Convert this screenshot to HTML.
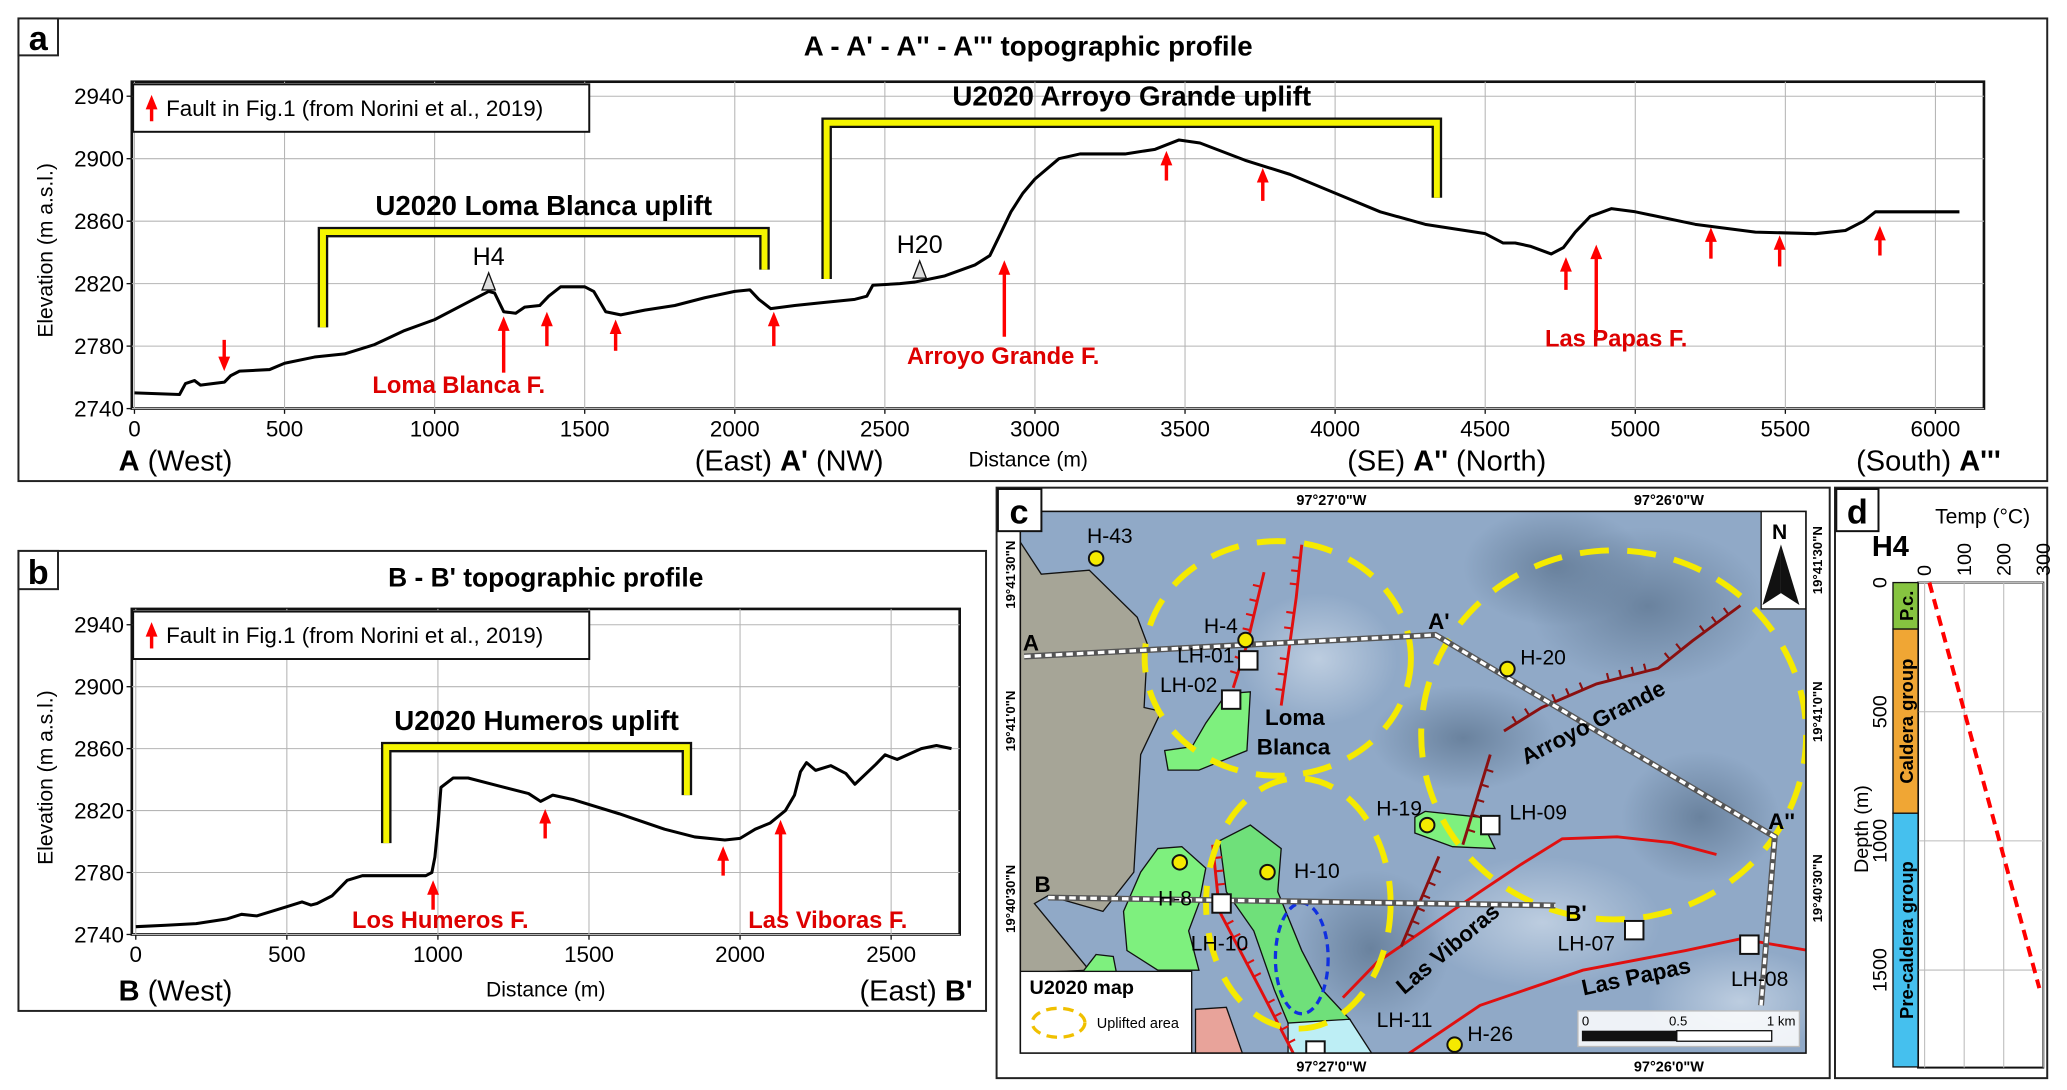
<!DOCTYPE html>
<html><head><meta charset="utf-8">
<style>
html,body{margin:0;padding:0;background:#fff;}
svg{display:block;font-family:"Liberation Sans Narrow","Liberation Sans",sans-serif;}
.b{font-weight:bold}
</style></head>
<body>
<svg id="fig" width="2067" height="1090" viewBox="0 0 1568 827" preserveAspectRatio="none" xmlns="http://www.w3.org/2000/svg">
<defs>
<radialGradient id="shade" cx="50%" cy="50%" r="50%"><stop offset="0" stop-color="#5d7590" stop-opacity="0.75"/><stop offset="1" stop-color="#5d7590" stop-opacity="0"/></radialGradient>
<radialGradient id="light" cx="50%" cy="50%" r="50%"><stop offset="0" stop-color="#c8d6e6" stop-opacity="0.8"/><stop offset="1" stop-color="#c8d6e6" stop-opacity="0"/></radialGradient>
<clipPath id="mapclip"><rect x="774" y="388" width="596" height="411"/></clipPath>
</defs>
<!-- panel boxes -->
<rect x="14" y="14" width="1539" height="351" fill="none" stroke="#222" stroke-width="1.5"/>
<rect x="14" y="14" width="30" height="28" fill="#fff" stroke="#222" stroke-width="1.5"/>
<text x="29" y="38" font-size="26" class="b" text-anchor="middle" font-family="Liberation Sans">a</text>
<text x="780" y="42" font-size="21" class="b" text-anchor="middle">A - A' - A'' - A''' topographic profile</text>

<rect x="14" y="418" width="734" height="349" fill="none" stroke="#222" stroke-width="1.5"/>
<rect x="14" y="418" width="30" height="29" fill="#fff" stroke="#222" stroke-width="1.5"/>
<text x="29" y="443" font-size="26" class="b" text-anchor="middle" font-family="Liberation Sans">b</text>
<text x="414" y="445" font-size="20" class="b" text-anchor="middle">B - B' topographic profile</text>

<g id="gA"></g>
<g id="gB"></g>

<!-- panel c -->
<rect x="756" y="370" width="632" height="448" fill="#fff" stroke="#222" stroke-width="1.5"/>
<g clip-path="url(#mapclip)" id="mapg">
<rect x="774" y="388" width="596" height="411" fill="#90a9c7"/>
<ellipse cx="1250" cy="460" rx="90" ry="60" fill="url(#shade)"/>
<ellipse cx="1180" cy="430" rx="70" ry="45" fill="url(#shade)"/>
<ellipse cx="1290" cy="620" rx="60" ry="50" fill="url(#shade)"/>
<ellipse cx="1110" cy="560" rx="70" ry="40" fill="url(#shade)"/>
<ellipse cx="1040" cy="720" rx="60" ry="60" fill="url(#shade)"/>
<ellipse cx="1000" cy="500" rx="60" ry="50" fill="url(#light)"/>
<ellipse cx="1170" cy="700" rx="90" ry="50" fill="url(#light)"/>
<ellipse cx="1320" cy="760" rx="70" ry="40" fill="url(#light)"/>
</g>
<g id="gC"></g>

<!-- panel d -->
<rect x="1392" y="370" width="161" height="448" fill="#fff" stroke="#222" stroke-width="1.5"/>
<g id="gD"></g>
</svg>

<script>
var NS='http://www.w3.org/2000/svg';
function mk(parent,tag,attrs,txt){var e=document.createElementNS(NS,tag);for(var k in attrs)e.setAttribute(k,attrs[k]);if(txt!==undefined)e.textContent=txt;parent.appendChild(e);return e;}

/* ================= PANEL A DATA ================= */
var aDist=[0,150,170,200,220,300,320,350,450,500,600,700,800,900,1000,1100,1160,1180,1200,1230,1270,1300,1350,1380,1420,1500,1530,1570,1620,1700,1800,1900,2000,2050,2080,2120,2200,2300,2400,2440,2460,2550,2600,2700,2800,2850,2880,2920,2960,3000,3080,3150,3300,3400,3480,3550,3700,3850,4000,4150,4300,4500,4560,4600,4650,4720,4760,4800,4850,4920,5000,5200,5400,5600,5700,5760,5800,6080];
var aElev=[2750,2749,2756,2758,2755,2757,2761,2764,2765,2769,2773,2775,2781,2790,2797,2807,2813,2815,2814,2802,2801,2805,2806,2812,2818,2818,2815,2802,2800,2803,2806,2811,2815,2816,2810,2804,2806,2808,2810,2812,2819,2820,2821,2825,2832,2838,2850,2866,2878,2887,2900,2903,2903,2906,2912,2910,2899,2890,2878,2866,2858,2852,2846,2846,2844,2839,2843,2853,2863,2868,2866,2858,2853,2852,2854,2860,2866,2866];
var aXTicks=[0,500,1000,1500,2000,2500,3000,3500,4000,4500,5000,5500,6000];
var aYTicks=[2740,2780,2820,2860,2900,2940];
var aFaultDist=[299,1230,1374,1603,2130,2898,3438,3759,4769,4870,5252,5481,5815];
var aFaultTip=[2764,2799,2802,2797,2802,2835,2905,2894,2837,2845,2856,2851,2857];
var aFaultTail=[2784,2763,2780,2777,2780,2786,2886,2873,2816,2786,2836,2831,2838];

/* ================= PANEL B DATA ================= */
var bDist=[0,100,200,300,350,400,500,550,580,600,650,700,750,800,960,980,990,1000,1010,1050,1100,1200,1300,1340,1380,1450,1600,1750,1850,1950,2000,2050,2100,2150,2180,2200,2220,2250,2300,2350,2380,2450,2480,2520,2600,2650,2700];
var bElev=[2745,2746,2747,2750,2753,2752,2758,2761,2759,2760,2765,2775,2778,2778,2778,2780,2790,2810,2835,2841,2841,2836,2831,2826,2830,2827,2818,2808,2803,2801,2802,2808,2812,2820,2830,2845,2851,2846,2849,2844,2837,2850,2856,2853,2860,2862,2860];
var bXTicks=[0,500,1000,1500,2000,2500];
var bYTicks=[2740,2780,2820,2860,2900,2940];
var bFaultDist=[984,1355,1944,2134];
var bFaultTip=[2775,2821,2797,2814];
var bFaultTail=[2756,2802,2778,2752];

/* ================= PANEL D DATA ================= */
var dTempTicks=[0,100,200,300];
var dDepthTicks=[0,500,1000,1500];
var dDepth=[0,1570];
var dTemp=[12,290];

function profile(g,cfg){
  var X=cfg.x,Y=cfg.y;
  // frame
  var fr=mk(g,'rect',{x:cfg.fx0,y:cfg.fy0,width:cfg.fx1-cfg.fx0,height:cfg.fy1-cfg.fy0,fill:'#fff',stroke:'#111','stroke-width':2});
  
  
  cfg.xt.forEach(function(t){
    var l=mk(g,'line',{x1:X(t),x2:X(t),y1:cfg.fy0,y2:cfg.fy1,stroke:'#b5b5b5','stroke-width':0.8});
    
    
    var tl=mk(g,'text',{x:X(t),y:cfg.fy1+21,'font-size':17,'text-anchor':'middle'},String(t));
    
    
    mk(g,'line',{x1:X(t),x2:X(t),y1:cfg.fy1,y2:cfg.fy1+4,stroke:'#111','stroke-width':1});
  });
  cfg.yt.forEach(function(t){
    var l=mk(g,'line',{x1:cfg.fx0,x2:cfg.fx1,y1:Y(t),y2:Y(t),stroke:'#b5b5b5','stroke-width':0.8});
    
    
    var tl=mk(g,'text',{x:cfg.fx0-6,y:Y(t)+6,'font-size':17,'text-anchor':'end'},String(t));
    
    
    mk(g,'line',{x1:cfg.fx0-4,x2:cfg.fx0,y1:Y(t),y2:Y(t),stroke:'#111','stroke-width':1});
  });
  var yl=mk(g,'text',{x:0,y:0,'font-size':16,'text-anchor':'middle','font-family':'Liberation Sans',transform:'translate(40,'+cfg.ylY+') rotate(-90)'},'Elevation (m a.s.l.)');
  
  
  // legend
  var lg=mk(g,'g',{});
  
  
  mk(lg,'rect',{x:101,y:cfg.fy0+2,width:346,height:36,fill:'#fff',stroke:'#111','stroke-width':1.5});
  redArrow(lg,115,cfg.fy0+30,cfg.fy0+10);
  mk(lg,'text',{x:126,y:cfg.fy0+26,'font-size':17},'Fault in Fig.1 (from Norini et al., 2019)');
  // brackets
  cfg.br.forEach(function(b){
    var d='M'+X(b[0])+','+Y(b[3])+' L'+X(b[0])+','+Y(b[2])+' L'+X(b[1])+','+Y(b[2])+' L'+X(b[1])+','+Y(b[4]);
    var bg=mk(g,'g',{});
    
    
    mk(bg,'path',{d:d,fill:'none',stroke:'#111','stroke-width':8,'stroke-linejoin':'miter'});
    mk(bg,'path',{d:d,fill:'none',stroke:'#f5f500','stroke-width':4.5,'stroke-linejoin':'miter'});
    var bl=mk(g,'text',{x:(X(b[0])+X(b[1]))/2,y:Y(b[2])-13,'font-size':21,'text-anchor':'middle',class:'b'},b[5]);
    
    
  });
  // profile line
  var pts=cfg.dist.map(function(d,i){return X(d).toFixed(1)+','+Y(cfg.elev[i]).toFixed(1);}).join(' ');
  var pl=mk(g,'polyline',{points:pts,fill:'none',stroke:'#000','stroke-width':2.3,'stroke-linejoin':'round'});
  
  
  // faults
  cfg.fd.forEach(function(d,i){
    var a=redArrow(g,X(d),Y(cfg.ftail[i]),Y(cfg.ftip[i]));
    
    
  });
}
function redArrow(g,x,y0,y1){
  var gg=mk(g,'g',{});
  var dir=y1<y0?1:-1;
  mk(gg,'line',{x1:x,x2:x,y1:y0,y2:y1+dir*10,stroke:'#f00','stroke-width':2.6});
  mk(gg,'path',{d:'M'+(x-4.5)+','+(y1+dir*11)+' L'+x+','+y1+' L'+(x+4.5)+','+(y1+dir*11)+'Z',fill:'#f00'});
  return gg;
}
function txt(g,x,y,s,size,name,extra){
  var a={x:x,y:y,'font-size':size};for(var k in extra)a[k]=extra[k];
  var t=mk(g,'text',a,s);
  
  
  return t;
}

/* ---- Panel A ---- */
var gA=document.getElementById('gA');
var xA=function(d){return 102+d*0.2277;};
var yA=function(e){return 310-(e-2740)*1.185;};
profile(gA,{p:'profile-a',x:xA,y:yA,fx0:100,fx1:1505,fy0:62,fy1:310,xt:aXTicks,yt:aYTicks,ylY:190,dist:aDist,elev:aElev,fd:aFaultDist,ftip:aFaultTip,ftail:aFaultTail,
  br:[[628,2099,2853,2792,2829,'U2020 Loma Blanca uplift'],[2306,4339,2923,2823,2875,'U2020 Arroyo Grande uplift']]});
// wells
function well(g,x,yTop,label,name){
  var w=mk(g,'g',{});
  
  
  mk(w,'path',{d:'M'+x+','+yTop+' L'+(x-5)+','+(yTop+13)+' L'+(x+5)+','+(yTop+13)+'Z',fill:'#ddd',stroke:'#111','stroke-width':1});
  mk(w,'text',{x:x,y:yTop-6,'font-size':19,'text-anchor':'middle'},label);
}
well(gA,xA(1180),207,'H4','well-h4-marker');
well(gA,xA(2616),198,'H20','well-h20-marker');
txt(gA,348,298,'Loma Blanca F.',18,'fault-label-loma-blanca',{'text-anchor':'middle',fill:'#d00',class:'b'});
txt(gA,761,276,'Arroyo Grande F.',18,'fault-label-arroyo-grande',{'text-anchor':'middle',fill:'#d00',class:'b'});
txt(gA,1226,263,'Las Papas F.',18,'fault-label-las-papas',{'text-anchor':'middle',fill:'#d00',class:'b'});
txt(gA,780,354,'Distance (m)',16,'profile-a-x-axis-title',{'text-anchor':'middle','font-family':'Liberation Sans'});
var t=txt(gA,90,357,'',22,'label-a-west',{});mk(t,'tspan',{class:'b'},'A');mk(t,'tspan',{},' (West)');
t=txt(gA,527,357,'',22,'label-a-prime-east-nw',{});mk(t,'tspan',{},'(East) ');mk(t,'tspan',{class:'b'},"A'");mk(t,'tspan',{},' (NW)');
t=txt(gA,1022,357,'',22,'label-a-double-prime',{});mk(t,'tspan',{},'(SE) ');mk(t,'tspan',{class:'b'},"A''");mk(t,'tspan',{},' (North)');
t=txt(gA,1408,357,'',22,'label-a-triple-prime',{});mk(t,'tspan',{},'(South) ');mk(t,'tspan',{class:'b'},"A'''");

/* ---- Panel B ---- */
var gB=document.getElementById('gB');
var xB=function(d){return 103+d*0.2292;};
var yB=function(e){return 709-(e-2740)*1.175;};
profile(gB,{p:'profile-b',x:xB,y:yB,fx0:100,fx1:728,fy0:462,fy1:709,xt:bXTicks,yt:bYTicks,ylY:590,dist:bDist,elev:bElev,fd:bFaultDist,ftip:bFaultTip,ftail:bFaultTail,
  br:[[829,1824,2861,2799,2830,'U2020 Humeros uplift']]});
txt(gB,334,704,'Los Humeros F.',18,'fault-label-los-humeros',{'text-anchor':'middle',fill:'#d00',class:'b'});
txt(gB,628,704,'Las Viboras F.',18,'fault-label-las-viboras',{'text-anchor':'middle',fill:'#d00',class:'b'});
txt(gB,414,756,'Distance (m)',16,'profile-b-x-axis-title',{'text-anchor':'middle','font-family':'Liberation Sans'});
t=txt(gB,90,759,'',22,'label-b-west',{});mk(t,'tspan',{class:'b'},'B');mk(t,'tspan',{},' (West)');
t=txt(gB,652,759,'',22,'label-b-prime-east',{});mk(t,'tspan',{},'(East) ');mk(t,'tspan',{class:'b'},"B'");

/* ---- Panel C map ---- */
var mapg=document.getElementById('mapg');
var gC=document.getElementById('gC');
function P(zx,zy){return [758.7+zx*0.520,364.2+zy*0.2975];}
function poly(g,arr,attrs,name){
  var d=arr.map(function(p,i){var q=P(p[0],p[1]);return (i?'L':'M')+q[0].toFixed(1)+','+q[1].toFixed(1);}).join(' ');
  if(attrs.close!==false)d+='Z';delete attrs.close;attrs.d=d;
  var e=mk(g,'path',attrs);
  
  
  return e;
}
poly(mapg,[[0,0],[0,160],[30,160],[60,240],[130,230],[200,350],[215,420],[210,580],[235,590],[205,700],[195,1000],[150,1100],[70,1060],[50,1080],[130,1250],[0,1260]],{fill:'#a6a597',stroke:'#111','stroke-width':1},'caldera-rim-area');
poly(mapg,[[0,0],[0,160],[-50,160],[-50,0]],{fill:'#90a9c7'},'map-fill');
poly(mapg,[[285,1350],[330,1345],[355,1470],[285,1470]],{fill:'#e8a39a',stroke:'#111','stroke-width':1},'pink-unit');
poly(mapg,[[420,1380],[510,1375],[545,1470],[420,1470]],{fill:'#bdeef5',stroke:'#111','stroke-width':1},'cyan-unit');
poly(mapg,[[330,545],[365,540],[360,690],[290,740],[245,740],[240,690],[280,680],[300,620]],{fill:'#7ef07e',stroke:'#111','stroke-width':1},'green-area-loma-blanca');
poly(mapg,[[230,940],[265,935],[300,990],[290,1080],[275,1150],[290,1250],[230,1250],[185,1200],[180,1100],[205,1000]],{fill:'#7ef07e',stroke:'#111','stroke-width':1},'green-area-h8');
poly(mapg,[[365,880],[410,940],[405,1050],[440,1200],[470,1300],[510,1375],[420,1385],[400,1300],[370,1150],[330,1050],[320,920]],{fill:'#6fe07a',stroke:'#111','stroke-width':1},'green-area-h10');
poly(mapg,[[620,845],[700,860],[722,940],[660,935],[605,900],[605,860]],{fill:'#7ef07e',stroke:'#111','stroke-width':1},'green-area-h19');
poly(mapg,[[140,1210],[165,1215],[170,1260],[118,1260]],{fill:'#7ef07e',stroke:'#111','stroke-width':1},'green-area-small');
// blue dashed ellipse
var be=mk(mapg,'ellipse',{cx:P(440,1220)[0],cy:P(440,1220)[1],rx:20,ry:42,fill:'none',stroke:'#1030e0','stroke-width':2.5,'stroke-dasharray':'6 4'});


// faults
function fault(arr,col,name,ticks,sgn){
  poly(mapg,arr,{fill:'none',stroke:col,'stroke-width':2.2,close:false},name);
  if(!ticks)return;
  var pts=arr.map(function(p){return P(p[0],p[1]);});
  for(var i=0;i<pts.length-1;i++){
    var a=pts[i],b=pts[i+1],dx=b[0]-a[0],dy=b[1]-a[1],L=Math.hypot(dx,dy),n=Math.floor(L/12);
    for(var k=1;k<=n;k++){var f=k/(n+1),x=a[0]+dx*f,y=a[1]+dy*f,nx=-dy/L*sgn*6,ny=dx/L*sgn*6;
      mk(mapg,'line',{x1:x,y1:y,x2:x+nx,y2:y+ny,stroke:col,'stroke-width':1.6});}
  }
}
fault([[385,235],[360,420],[340,530]],'#e01010','fault-loma-blanca-west',true,1);
fault([[440,165],[432,300],[410,575]],'#e01010','fault-loma-blanca-east',true,1);
fault([[310,930],[320,1100],[380,1300],[430,1470]],'#e01010','fault-h10',true,-1);
fault([[500,1320],[550,1230],[600,1170],[700,1050],[760,980],[820,915],[900,910],[980,925],[1045,955]],'#e01010','fault-las-viboras',false);
fault([[590,1470],[700,1340],[850,1250],[1000,1200],[1080,1170],[1180,1200]],'#e01010','fault-las-papas',false);
fault([[735,640],[790,580],[870,520],[960,480],[1010,410],[1080,320]],'#8a1010','fault-arroyo-grande',true,-1);
fault([[715,700],[675,930]],'#8a1010','fault-h19',true,-1);
fault([[640,960],[585,1190]],'#8a1010','fault-viboras-north',true,-1);
// yellow uplift circles
[[405,455,101,89],[895,650,146,140],[435,1080,70,95]].forEach(function(c){
  var q=P(c[0],c[1]);
  var e=mk(mapg,'ellipse',{cx:q[0],cy:q[1],rx:c[2],ry:c[3],fill:'none',stroke:'#f5ea00','stroke-width':4.5,'stroke-dasharray':'22 14'});
  
  
});
// profile traces
function trace(arr,name){
  poly(mapg,arr,{fill:'none',stroke:'#555','stroke-width':4.5,close:false},name+'-outline');
  poly(mapg,arr,{fill:'none',stroke:'#fff','stroke-width':2.5,'stroke-dasharray':'5 3',close:false},name);
}
trace([[35,450],[635,395],[1130,910],[1110,1340]],'profile-trace-a');
trace([[70,1065],[810,1085]],'profile-trace-b');
// wells
[[140,200],[358,408],[740,482],[623,880],[390,1000],[262,975],[663,1440]].forEach(function(w){
  var q=P(w[0],w[1]);
  var c=mk(mapg,'circle',{cx:q[0],cy:q[1],r:5.5,fill:'#f5ea00',stroke:'#111','stroke-width':1.5});
  
  
});
[[362,460],[337,560],[715,880],[323,1080],[925,1148],[1093,1185],[460,1455]].forEach(function(w){
  var q=P(w[0],w[1]);
  var r=mk(mapg,'rect',{x:q[0]-7,y:q[1]-7,width:14,height:14,fill:'#fff',stroke:'#111','stroke-width':1.5});
  
  
});
// map labels
[['H-43',160,140],['H-4',322,370],['LH-01',300,445],['LH-02',275,520],['H-20',792,450],['H-19',582,835],['LH-09',785,845],['H-10',462,995],['H-8',255,1065],['LH-10',320,1180],['LH-07',855,1180],['LH-08',1108,1270],['LH-11',590,1375],['H-26',715,1410]].forEach(function(l){
  var q=P(l[1],l[2]);txt(mapg,q[0],q[1]+6,l[0],16,'map-label-'+l[0].toLowerCase(),{'text-anchor':'middle'});
});
[['A',45,415],["A'",640,360],["A''",1140,870],['B',62,1030],["B'",840,1105]].forEach(function(l){
  var q=P(l[1],l[2]);txt(mapg,q[0],q[1]+6,l[0],17,'map-section-label',{'text-anchor':'middle',class:'b'});
});
var q=P(430,605);txt(mapg,q[0],q[1]+6,'Loma',17,'map-label-loma',{'text-anchor':'middle',class:'b'});
q=P(428,680);txt(mapg,q[0],q[1]+6,'Blanca',17,'map-label-blanca',{'text-anchor':'middle',class:'b'});
q=P(870,615);txt(mapg,0,0,'Arroyo Grande',17,'map-label-arroyo-grande',{'text-anchor':'middle',class:'b',transform:'translate('+q[0]+','+(q[1]+6)+') rotate(-27)'});
q=P(660,1190);txt(mapg,0,0,'Las Viboras',17,'map-label-las-viboras',{'text-anchor':'middle',class:'b',transform:'translate('+q[0]+','+(q[1]+6)+') rotate(-40)'});
q=P(930,1265);txt(mapg,0,0,'Las Papas',17,'map-label-las-papas',{'text-anchor':'middle',class:'b',transform:'translate('+q[0]+','+(q[1]+6)+') rotate(-12)'});
// north arrow
var na=mk(mapg,'g',{});


mk(na,'rect',{x:1336,y:388,width:34,height:74,fill:'#fff',stroke:'#111','stroke-width':1});
mk(na,'text',{x:1350,y:409,'font-size':16,'text-anchor':'middle',class:'b'},'N');
mk(na,'path',{d:'M1351,413 L1337,459 L1351,450Z',fill:'#111'});
mk(na,'path',{d:'M1351,413 L1365,459 L1351,450Z',fill:'#111'});
// map legend
var ml=mk(mapg,'g',{});


mk(ml,'rect',{x:774,y:737,width:130,height:64,fill:'#fff',stroke:'#111','stroke-width':1});
mk(ml,'text',{x:781,y:754,'font-size':15,class:'b'},'U2020 map');
mk(ml,'ellipse',{cx:803,cy:776,rx:20,ry:11,fill:'none',stroke:'#f0c000','stroke-width':2.5,'stroke-dasharray':'8 5'});
mk(ml,'text',{x:832,y:780,'font-size':11},'Uplifted area');
// scale bar
var sb=mk(mapg,'g',{});


mk(sb,'rect',{x:1197,y:767,width:168,height:27,fill:'#fff','fill-opacity':0.85,stroke:'#bbb','stroke-width':1});
mk(sb,'text',{x:1200,y:778,'font-size':10},'0');
mk(sb,'text',{x:1273,y:778,'font-size':10,'text-anchor':'middle'},'0.5');
mk(sb,'text',{x:1362,y:778,'font-size':10,'text-anchor':'end'},'1 km');
mk(sb,'rect',{x:1200,y:782,width:72,height:8,fill:'#111'});
mk(sb,'rect',{x:1272,y:782,width:72,height:8,fill:'#fff',stroke:'#111','stroke-width':1});
mk(gC,'rect',{x:774,y:388,width:596,height:411,fill:'none',stroke:'#111','stroke-width':1.2});
// panel c label and coords
mk(gC,'rect',{x:757,y:371,width:33,height:32,fill:'#fff',stroke:'#111','stroke-width':1.5});
txt(gC,773,397,'c',26,'panel-c-label',{'text-anchor':'middle',class:'b','font-family':'Liberation Sans'});
[[1010,'97°27\'0"W'],[1266,'97°26\'0"W']].forEach(function(c){
  txt(gC,c[0],383,c[1],11,'map-longitude-label-top',{'text-anchor':'middle',class:'b','font-family':'Liberation Sans'});
  txt(gC,c[0],813,c[1],11,'map-longitude-label-bottom',{'text-anchor':'middle',class:'b','font-family':'Liberation Sans'});
});
[[436,'19°41\'30"N'],[547,'19°41\'0"N'],[682,'19°40\'30"N']].forEach(function(c){
  txt(gC,0,0,c[1],10,'map-latitude-label-left',{'text-anchor':'middle',class:'b','font-family':'Liberation Sans',transform:'translate(770,'+c[0]+') rotate(-90)'});
});
[[425,'19°41\'30"N'],[540,'19°41\'0"N'],[674,'19°40\'30"N']].forEach(function(c){
  txt(gC,0,0,c[1],10,'map-latitude-label-right',{'text-anchor':'middle',class:'b','font-family':'Liberation Sans',transform:'translate(1382,'+c[0]+') rotate(-90)'});
});

/* ---- Panel D ---- */
var gD=document.getElementById('gD');
mk(gD,'rect',{x:1393,y:371,width:32,height:32,fill:'#fff',stroke:'#111','stroke-width':1.5});
txt(gD,1409,397,'d',26,'panel-d-label',{'text-anchor':'middle',class:'b','font-family':'Liberation Sans'});
txt(gD,1504,397,'Temp (°C)',16,'temp-axis-title',{'text-anchor':'middle'});
txt(gD,1434,422,'H4',22,'well-h4-title',{'text-anchor':'middle',class:'b'});
var xD=function(tc){return 1460+tc*0.30;};
var yD=function(d){return 442+d*0.196;};
var pf=mk(gD,'rect',{x:1455,y:442,width:95,height:368,fill:'#fff',stroke:'#111','stroke-width':1.5});


dTempTicks.forEach(function(t){
  var l=mk(gD,'line',{x1:xD(t),x2:xD(t),y1:442,y2:810,stroke:'#bbb','stroke-width':0.8});
  
  
  txt(gD,0,0,String(t),15,'temp-tick-label',{'text-anchor':'start',transform:'translate('+(xD(t)+5)+',437) rotate(-90)'});
});
dDepthTicks.forEach(function(t){
  var l=mk(gD,'line',{x1:1455,x2:1550,y1:yD(t),y2:yD(t),stroke:'#bbb','stroke-width':0.8});
  
  
  txt(gD,0,0,String(t),15,'depth-tick-label',{'text-anchor':'middle',transform:'translate(1431,'+yD(t)+') rotate(-90)'});
});
txt(gD,0,0,'Depth (m)',15,'depth-axis-title',{'text-anchor':'middle','font-family':'Liberation Sans',transform:'translate(1417,629) rotate(-90)'});
// stratigraphy column
[[0,180,'#86c440','P.c.'],[180,893,'#f0a634','Caldera group'],[893,1875,'#45c0ee','Pre-caldera group']].forEach(function(s){
  var r=mk(gD,'rect',{x:1436,y:yD(s[0]),width:19,height:yD(s[1])-yD(s[0]),fill:s[2],stroke:'#111','stroke-width':1});
  
  
  txt(gD,0,0,s[3],14,'strat-unit-label',{'text-anchor':'middle',class:'b','font-family':'Liberation Sans',transform:'translate(1451,'+((yD(s[0])+yD(s[1]))/2)+') rotate(-90)'});
});
var tl=mk(gD,'line',{x1:xD(dTemp[0]),y1:yD(dDepth[0]),x2:xD(dTemp[1]),y2:yD(dDepth[1]),stroke:'#f00','stroke-width':3,'stroke-dasharray':'8 5'});


</script>
</body></html>
